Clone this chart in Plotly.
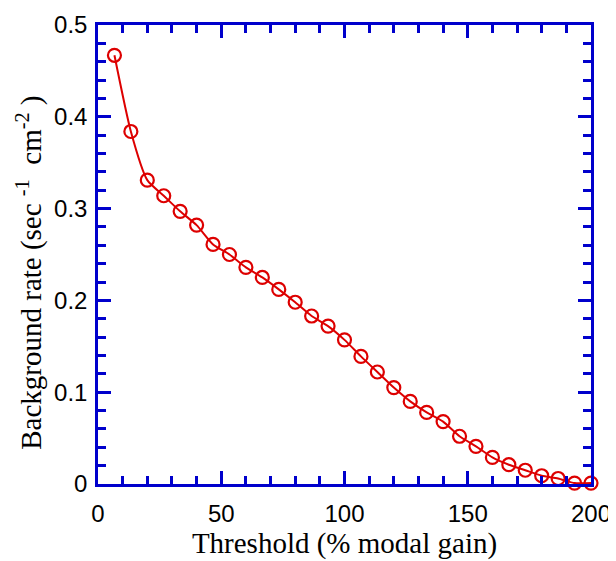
import plotly.graph_objects as go

threshold = [6.67, 13.33, 20.0, 26.67, 33.33, 40.0, 46.67, 53.33, 60.0, 66.67,
             73.33, 80.0, 86.67, 93.33, 100.0, 106.67, 113.33, 120.0, 126.67, 133.33,
             140.0, 146.67, 153.33, 160.0, 166.67, 173.33, 180.0, 186.67, 193.33, 200.0]
rate = [0.467, 0.384, 0.331, 0.314, 0.297, 0.282, 0.261, 0.250, 0.236, 0.225,
        0.212, 0.198, 0.183, 0.172, 0.157, 0.139, 0.122, 0.105, 0.090, 0.078,
        0.068, 0.052, 0.041, 0.029, 0.021, 0.015, 0.009, 0.006, 0.001, 0.001]

x_ticks = [0, 50, 100, 150, 200]
y_ticks = [0, 0.1, 0.2, 0.3, 0.4, 0.5]
y_tick_labels = ["0", "0.1", "0.2", "0.3", "0.4", "0.5"]

red = "#DD0000"
blue = "#0000CC"
NB = "\u00a0"

fig = go.Figure(go.Scatter(
    x=threshold, y=rate, mode="lines+markers",
    line=dict(color=red, width=2, shape="spline", smoothing=0.6),
    marker=dict(symbol="circle-open", size=13, color=red, line=dict(width=2.2, color=red)),
    cliponaxis=False,
))

axis_common = dict(
    showline=True, linecolor=blue, linewidth=2.5, mirror="ticks",
    ticks="inside", tickcolor=blue, tickwidth=2.5, ticklen=13,
    showgrid=False, zeroline=False, automargin=False,
    tickfont=dict(family="Liberation Sans, Arial", size=24, color="black"),
)

title_font = dict(family="Liberation Serif, Times New Roman", size=29, color="black")

y_title = ("Background rate (sec" + NB + "<sup>-1</sup>" + NB * 2 + "cm" + "<sup>-2</sup>" + NB + ")"
           + NB * 5 + "\u200b")

fig.update_xaxes(
    range=[0, 200], tickvals=x_ticks, ticklabeloverflow="allow", ticklabelstandoff=6,
    minor=dict(dtick=10, ticks="inside", ticklen=8, tickcolor=blue, tickwidth=2.5, showgrid=False),
    title=dict(text="Threshold (% modal gain)", font=title_font, standoff=0),
    **axis_common,
)
fig.update_yaxes(
    range=[0, 0.5], tickvals=y_ticks, ticktext=y_tick_labels, ticklabelstandoff=3,
    minor=dict(dtick=0.02, ticks="inside", ticklen=8, tickcolor=blue, tickwidth=2.5, showgrid=False),
    title=dict(text=y_title, font=title_font, standoff=4),
    **axis_common,
)

# page body has an 8px margin, so the figure's margins are shifted by 8px
fig.update_layout(
    width=608, height=553,
    margin=dict(l=90, r=25, t=17, b=77),
    plot_bgcolor="white", paper_bgcolor="white",
    showlegend=False,
)

fig.write_html("out.html")
